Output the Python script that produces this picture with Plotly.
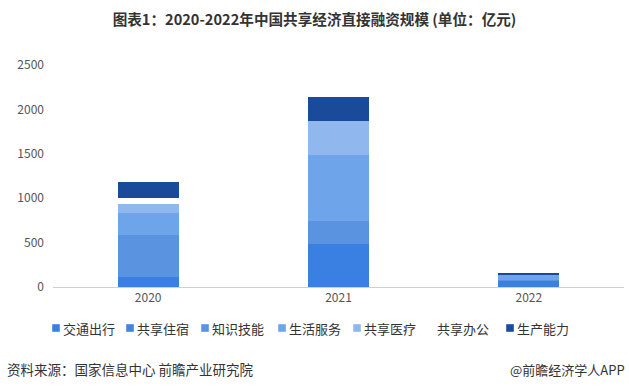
import plotly.graph_objects as go

years = ["2020", "2021", "2022"]
series_names = ["交通出行", "共享住宿", "知识技能", "生活服务", "共享医疗", "共享办公", "生产能力"]
jiaotong = [113, 484, 71]
zhusu = [2, 0, 0]
zhishi = [470, 259, 10]
shenghuo = [245, 743, 57]
yiliao = [101, 387, 0]
bangong = [75, 0, 0]
shengchan = [173, 270, 14]
y_ticks = [0, 500, 1000, 1500, 2000, 2500]

values = [jiaotong, zhusu, zhishi, shenghuo, yiliao, bangong, shengchan]
colors = ["#3a80e2", "#4385dc", "#5a93e0", "#6ea5ea", "#90b8ee", "#ffffff", "#1a4a9a"]

# legend layout (pixels)
legend_square_px = [56, 130, 205, 282, 357, 430, 510]
legend_y_px = 328
W, H = 629, 389
plot_left, plot_w = 53, 571
plot_top, plot_h = 65, 222


def px_x(p):
    return (p - plot_left) / plot_w


def px_y(p):
    return (plot_top + plot_h - p) / plot_h


fig = go.Figure()
for name, vals, col in zip(series_names, values, colors):
    fig.add_trace(go.Bar(x=years, y=vals, name=name, showlegend=False,
                         marker=dict(color=col, line=dict(width=0))))

# manual legend (squares + labels) to match the compact legend spacing
half = 3.8
for name, col, sx in zip(series_names, colors, legend_square_px):
    fig.add_shape(type="rect", xref="paper", yref="paper",
                  x0=px_x(sx - half), x1=px_x(sx + half),
                  y0=px_y(legend_y_px + half), y1=px_y(legend_y_px - half),
                  fillcolor=col, line=dict(width=0))
    fig.add_annotation(text=name, xref="paper", yref="paper",
                       x=px_x(sx + 5), y=px_y(legend_y_px), xanchor="left", yanchor="middle",
                       showarrow=False, font=dict(size=13, color="#333"))

fig.update_layout(
    barmode="stack",
    bargap=0.68,
    width=W, height=H,
    margin=dict(l=53, r=5, t=65, b=102, autoexpand=False),
    paper_bgcolor="white", plot_bgcolor="white",
    font=dict(family="Noto Sans CJK SC, sans-serif", color="#333", size=12),
    title=dict(text="<b>图表1：2020-2022年中国共享经济直接融资规模 (单位：亿元)</b>",
               x=0.5, xanchor="center", y=0.95, yanchor="middle",
               font=dict(size=14.6, color="#333")),
    xaxis=dict(showline=True, linecolor="#d0d0d0", linewidth=1, ticks="",
               tickfont=dict(size=12, color="#555"), showgrid=False),
    yaxis=dict(range=[0, 2500], tickvals=y_ticks, showgrid=False, zeroline=False,
               tickfont=dict(size=12, color="#555"), ticks="", ticklabelstandoff=8),
    showlegend=False,
)

fig.add_annotation(text="资料来源：国家信息中心 前瞻产业研究院", xref="paper", yref="paper",
                   x=px_x(5), y=px_y(369), xanchor="left", yanchor="middle", showarrow=False,
                   font=dict(size=13.5, color="#333"))
fig.add_annotation(text="@前瞻经济学人APP", xref="paper", yref="paper",
                   x=px_x(627), y=px_y(369), xanchor="right", yanchor="middle", showarrow=False,
                   font=dict(size=13, color="#333"))

fig.write_html("out.html", config={"displayModeBar": False},
               post_script="document.body.style.margin='0px';")
